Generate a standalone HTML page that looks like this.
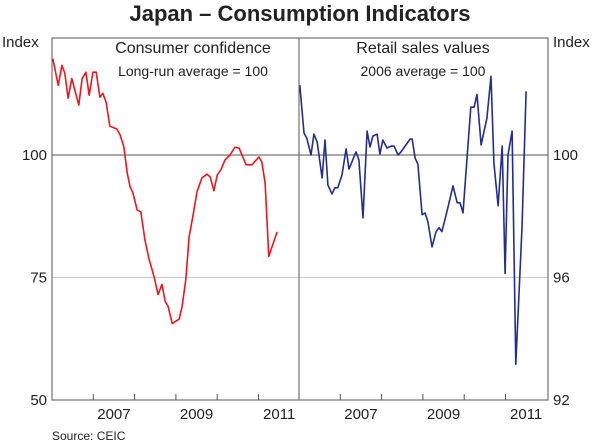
<!DOCTYPE html>
<html><head><meta charset="utf-8"><style>
html,body{margin:0;padding:0;background:#fff;}
svg{display:block;font-family:"Liberation Sans",Arial,sans-serif;}
</style></head><body>
<svg id="chart" width="600" height="444" viewBox="0 0 600 444">
<text x="300" y="21" text-anchor="middle" font-size="22" font-weight="bold" fill="#222">Japan – Consumption Indicators</text>
<text x="2" y="47" font-size="15" fill="#222">Index</text>
<text x="553" y="47" font-size="15" fill="#222">Index</text>
<text x="193" y="53" text-anchor="middle" font-size="16" fill="#222">Consumer confidence</text>
<text x="193" y="76" text-anchor="middle" font-size="14" fill="#222">Long-run average = 100</text>
<text x="423" y="53" text-anchor="middle" font-size="16" fill="#222">Retail sales values</text>
<text x="423" y="76" text-anchor="middle" font-size="14" fill="#222">2006 average = 100</text>
<text x="52" y="440" font-size="12" fill="#222">Source: CEIC</text>
<g id="grid"></g>
<g id="series"></g>
<rect x="52" y="38" width="496" height="362" fill="none" stroke="#555" stroke-width="1"/>
<line x1="299" y1="38" x2="299" y2="400" stroke="#555" stroke-width="1"/>
<g id="axes"></g>
</svg>
<script>
const leftDates=[2006.02,2006.15,2006.24,2006.31,2006.39,2006.48,2006.65,2006.73,2006.82,2006.90,2006.99,2007.07,2007.16,2007.23,2007.31,2007.40,2007.57,2007.65,2007.74,2007.82,2007.89,2007.96,2008.06,2008.15,2008.25,2008.35,2008.47,2008.57,2008.66,2008.74,2008.81,2008.91,2009.08,2009.15,2009.24,2009.32,2009.41,2009.51,2009.63,2009.75,2009.83,2009.92,2010.00,2010.09,2010.19,2010.31,2010.43,2010.53,2010.70,2010.84,2011.01,2011.08,2011.16,2011.25,2011.45];
const leftValues=[119.7,114.2,118.3,116.7,111.6,115.6,110.2,115.6,116.9,112.2,116.9,116.9,111.8,112.6,110.8,105.9,105.3,104.1,101.6,96.3,93.5,92.3,88.8,88.4,82.7,78.7,75.2,71.5,73.6,70.1,69.1,65.6,66.5,69.1,74.6,83.3,87.4,92.5,95.3,96.1,95.5,92.7,95.9,97.0,99.0,100.0,101.6,101.4,98.0,98.0,99.6,98.6,94.3,79.3,84.3];
const rightDates=[2006.02,2006.12,2006.19,2006.29,2006.36,2006.44,2006.56,2006.63,2006.70,2006.80,2006.87,2006.94,2007.04,2007.14,2007.21,2007.38,2007.45,2007.55,2007.65,2007.72,2007.79,2007.89,2007.96,2008.03,2008.13,2008.23,2008.30,2008.40,2008.47,2008.69,2008.74,2008.81,2008.88,2008.98,2009.05,2009.12,2009.22,2009.32,2009.39,2009.46,2009.58,2009.73,2009.83,2009.90,2009.97,2010.07,2010.16,2010.24,2010.31,2010.41,2010.55,2010.65,2010.72,2010.82,2010.92,2010.99,2011.06,2011.16,2011.25,2011.40,2011.50];
const rightValues=[102.28,100.72,100.55,100.0,100.68,100.42,99.25,100.49,99.02,98.73,98.93,98.93,99.35,100.2,99.54,100.1,99.84,97.95,100.78,100.26,100.62,100.68,100.03,100.49,100.23,100.29,100.29,100.0,100.1,100.52,100.52,99.9,99.7,98.05,98.11,97.82,97.0,97.5,97.63,97.5,98.15,98.99,98.44,98.44,98.11,99.93,101.56,101.56,101.98,100.33,101.2,102.57,99.74,98.34,100.29,96.13,100.0,100.78,93.17,97.63,102.08];
const leftTicks=[50,75,100];
const rightTicks=[92,96,100];
const yearTicks=[2007,2008,2009,2010,2011];
const yearLabels=[2007,2009,2011];

const NS="http://www.w3.org/2000/svg";
const plotTop=38,plotBot=400,pxYear=41.3;
const xL=t=>52+(t-2006)*pxYear;
const xR=t=>299+(t-2006)*pxYear;
const yL=v=>plotBot-(v-50)*(245/50);
const yR=v=>plotBot-(v-92)*(245/8);
function mk(tag,attrs,parent){const e=document.createElementNS(NS,tag);for(const k in attrs)e.setAttribute(k,attrs[k]);parent.appendChild(e);return e;}
const grid=document.getElementById('grid'),series=document.getElementById('series'),axes=document.getElementById('axes');
leftTicks.forEach(v=>{
  const y=yL(v);
  if(v>50){const g=mk('line',{x1:52,x2:548,y1:y,y2:y,stroke:v===100?'#555':'#ccc','stroke-width':1},grid);
    
    }
  const t=mk('text',{x:47,y:y+5,'text-anchor':'end','font-size':15,fill:'#222'},axes);t.textContent=v;
  
  
});
rightTicks.forEach(v=>{
  const t=mk('text',{x:553,y:yR(v)+5,'font-size':15,fill:'#222'},axes);t.textContent=v;
  
  
});
[xL,xR].forEach((xf,pi)=>{
  yearTicks.forEach(yr=>{const l=mk('line',{x1:xf(yr),x2:xf(yr),y1:plotBot,y2:plotBot-6,stroke:'#555'},axes);
    
    });
  yearLabels.forEach(yr=>{const t=mk('text',{x:xf(yr+0.5),y:419,'text-anchor':'middle','font-size':15,fill:'#222'},axes);t.textContent=yr;
    
    });
});
function line(d,v,xf,yf,color,name){
  const pts=d.map((t,i)=>xf(t).toFixed(1)+','+yf(v[i]).toFixed(1)).join(' ');
  const p=mk('polyline',{points:pts,fill:'none',stroke:color,'stroke-width':1.6,'stroke-linejoin':'round'},series);
  
  
}
line(leftDates,leftValues,xL,yL,'#f0141e','consumer-confidence-line');
line(rightDates,rightValues,xR,yR,'#232c94','retail-sales-line');
</script>
</body></html>
